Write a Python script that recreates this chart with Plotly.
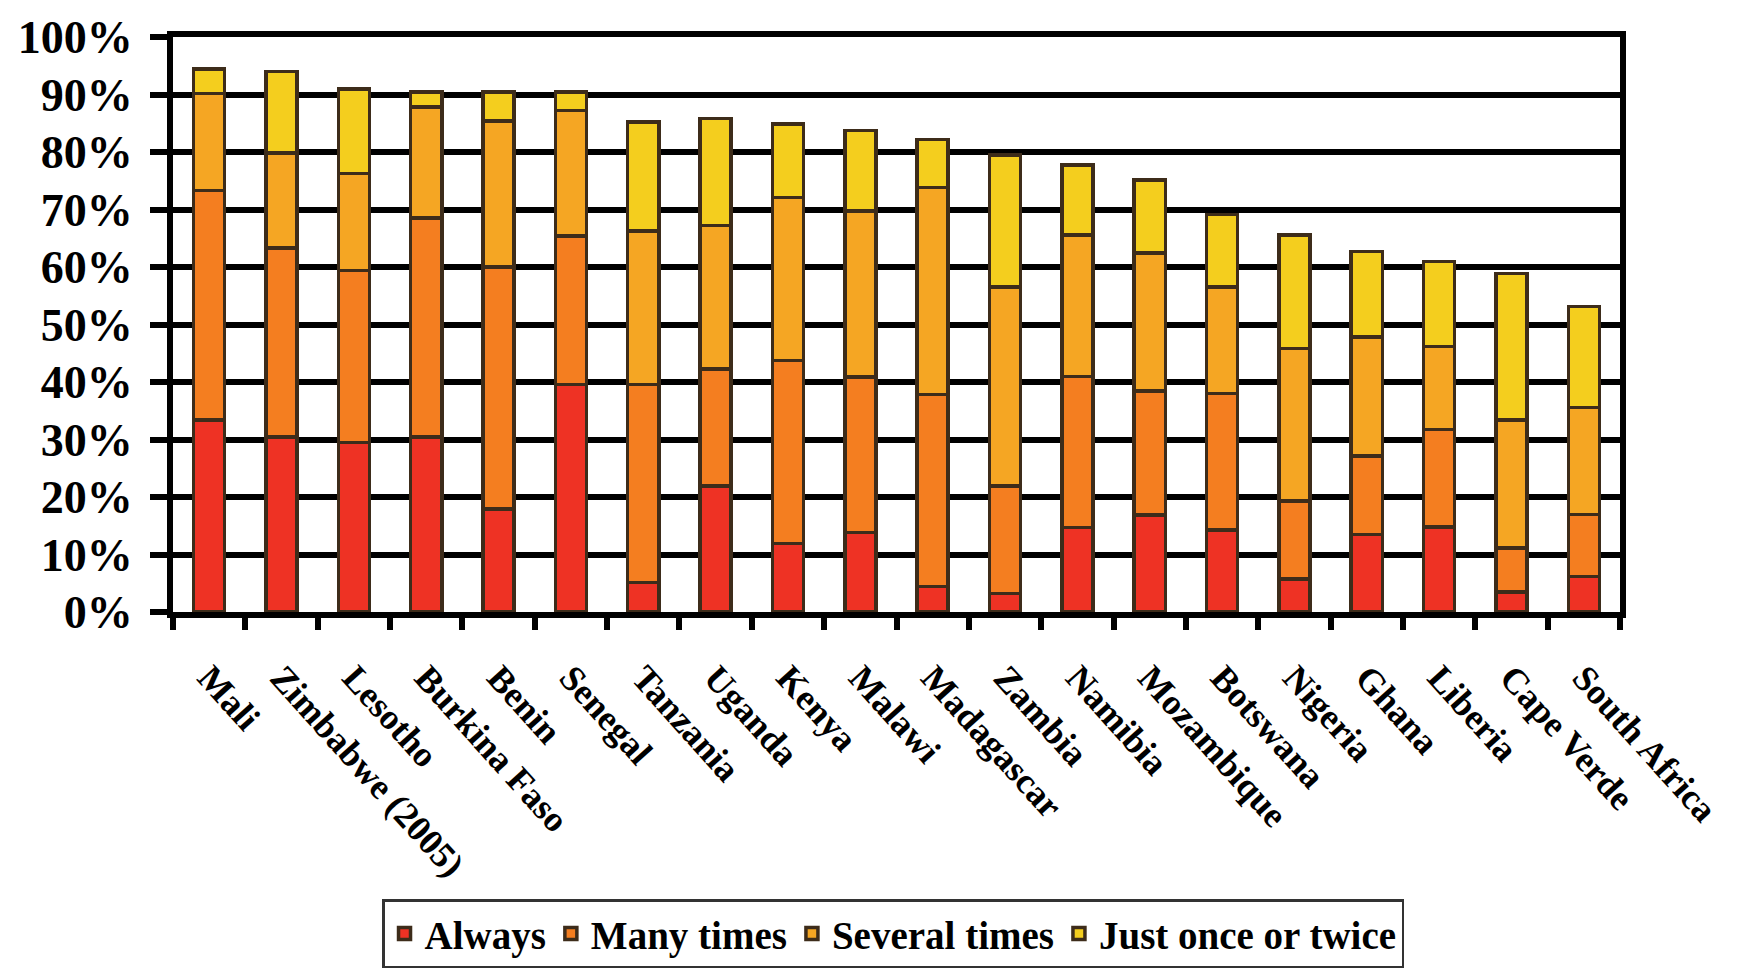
import plotly.graph_objects as go

# Countries, ordered as plotted
countries = [
    "Mali", "Zimbabwe (2005)", "Lesotho", "Burkina Faso", "Benin", "Senegal",
    "Tanzania", "Uganda", "Kenya", "Malawi", "Madagascar", "Zambia", "Namibia",
    "Mozambique", "Botswana", "Nigeria", "Ghana", "Liberia", "Cape Verde",
    "South Africa",
]

# Share of respondents (%) by frequency
always = [33.4, 30.4, 29.5, 30.4, 17.9, 39.6, 5.1, 21.9, 11.9, 13.8,
          4.4, 3.2, 14.7, 16.9, 14.3, 5.7, 13.5, 14.8, 3.5, 6.2]
many_times = [39.9, 32.9, 29.9, 38.1, 42.1, 25.8, 34.5, 20.4, 31.8, 27.1,
              33.4, 18.7, 26.3, 21.5, 23.7, 13.6, 13.6, 16.9, 7.6, 10.8]
several_times = [16.9, 16.5, 16.9, 19.3, 25.4, 21.8, 26.7, 24.9, 28.4, 28.8,
                 36.0, 34.6, 24.6, 24.0, 18.5, 26.5, 20.7, 14.5, 22.3, 18.6]
once_or_twice = [4.2, 14.2, 14.7, 2.6, 5.0, 3.2, 18.9, 18.6, 12.8, 14.0,
                 8.4, 23.0, 12.1, 12.7, 12.6, 19.8, 14.9, 14.8, 25.5, 17.5]

series = [
    ("Always", always, "#EE3224"),
    ("Many times", many_times, "#F47E20"),
    ("Several times", several_times, "#F5A623"),
    ("Just once or twice", once_or_twice, "#F4CE1E"),
]

SERIF = "Liberation Serif, Times New Roman, serif"
LINE_W = 6

fig = go.Figure()
for name, vals, color in series:
    fig.add_trace(go.Bar(
        x=countries, y=vals, name=name, width=0.43,
        marker=dict(color=color, line=dict(color="#3d2c1a", width=3.5)),
    ))

fig.update_layout(
    width=1761, height=972,
    barmode="stack",
    paper_bgcolor="white", plot_bgcolor="white",
    margin=dict(l=173, r=141, t=28, b=360),
    font=dict(family=SERIF, color="black", weight="bold"),
    showlegend=True,
    legend=dict(
        orientation="h", traceorder="normal",
        xref="paper", x=0.4976, xanchor="center",
        yref="container", y=0.004, yanchor="bottom",
        bordercolor="#333333", borderwidth=2.5, bgcolor="white",
        font=dict(family=SERIF, size=39, color="black", weight="bold"),
        itemwidth=30,
    ),
)

fig.update_xaxes(
    type="category", tickson="boundaries",
    showline=True, linecolor="black", linewidth=LINE_W, mirror=True,
    ticks="outside", ticklen=12, tickwidth=LINE_W, tickcolor="black",
    tickangle=48, ticklabelstandoff=24,
    tickfont=dict(family=SERIF, size=36, color="black", weight="bold"),
    showgrid=False,
)

fig.update_yaxes(
    range=[0, 100], dtick=10, ticksuffix="%",
    showline=True, linecolor="black", linewidth=LINE_W, mirror=True,
    showgrid=True, gridcolor="black", gridwidth=LINE_W,
    ticks="outside", ticklen=17, tickwidth=LINE_W, tickcolor="black",
    ticklabelstandoff=8,
    tickfont=dict(family=SERIF, size=46, color="black", weight="bold"),
    zeroline=False,
)

fig.write_html("out.html")
